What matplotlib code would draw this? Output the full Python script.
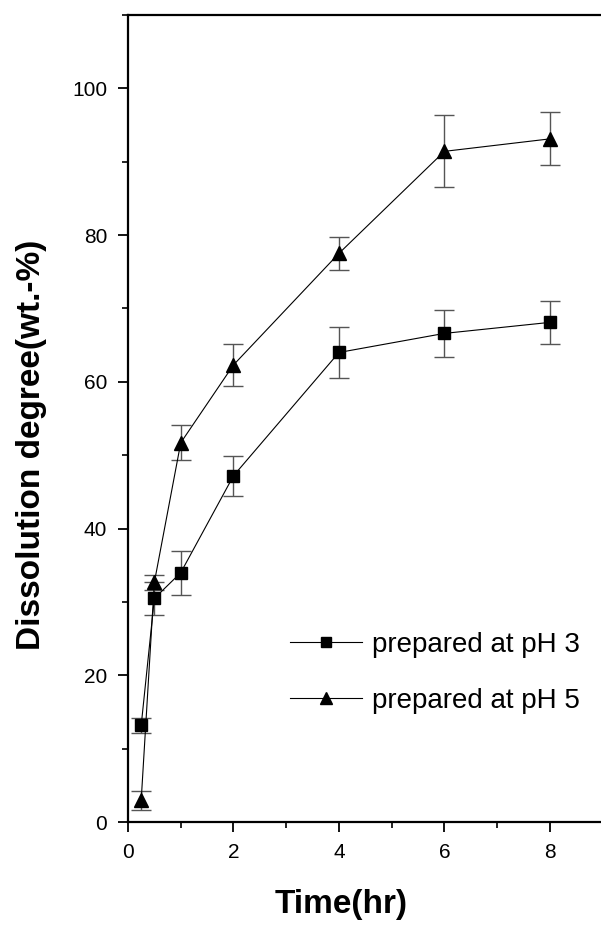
import matplotlib
matplotlib.use("Agg")
import matplotlib.pyplot as plt
from matplotlib.ticker import MultipleLocator
from matplotlib.lines import Line2D

plt.rcParams['font.family'] = ['Liberation Sans', 'DejaVu Sans']

# time points (hr)
time = [0.25, 0.5, 1, 2, 4, 6, 8]

# dissolution degree, wt.-%
ph3 = [13.2, 30.5, 34.0, 47.2, 64.0, 66.6, 68.1]
ph3_err = [1.0, 2.2, 3.0, 2.7, 3.5, 3.2, 2.9]
ph5 = [3.0, 32.7, 51.7, 62.3, 77.5, 91.4, 93.1]
ph5_err = [1.3, 1.0, 2.4, 2.9, 2.2, 4.9, 3.6]

labels = ['prepared at pH 3', 'prepared at pH 5']

fig = plt.figure(figsize=(6.01, 9.27), dpi=100)
ax = fig.add_axes([0.213, 0.113, 0.787, 0.871])

ax.errorbar(time, ph3, yerr=ph3_err, color='black', lw=0.8, marker='s', ms=8.5,
            ecolor='#555555', elinewidth=1, capsize=7.5, capthick=1)
ax.errorbar(time, ph5, yerr=ph5_err, color='black', lw=0.8, marker='^', ms=9.5,
            ecolor='#555555', elinewidth=1, capsize=7.5, capthick=1)

ax.set_xlim(0, 8.97)
ax.set_ylim(0, 110)
ax.xaxis.set_major_locator(MultipleLocator(2))
ax.xaxis.set_minor_locator(MultipleLocator(1))
ax.yaxis.set_major_locator(MultipleLocator(20))
ax.yaxis.set_minor_locator(MultipleLocator(10))
ax.tick_params(which='major', direction='out', length=7, width=1.3, labelsize=15, pad=8)
ax.tick_params(which='minor', direction='out', length=4, width=1.2)
ax.spines['right'].set_visible(False)
for s in ['left', 'bottom', 'top']:
    ax.spines[s].set_linewidth(1.6)

ax.set_xlabel('Time(hr)', fontsize=24, fontweight='bold')
ax.set_ylabel('Dissolution degree(wt.-%)', fontsize=24, fontweight='bold')
ax.xaxis.set_label_coords(0.45, -0.083)
ax.yaxis.set_label_coords(-0.171, 0.467)

# legend handles: line + marker, no error bars
handles = [Line2D([], [], color='black', lw=0.8, marker='s', ms=7.5),
           Line2D([], [], color='black', lw=0.8, marker='^', ms=8.5)]
ax.legend(handles, labels, loc='upper left', bbox_to_anchor=(0.342, 0.236),
          frameon=False, fontsize=20, handlelength=2.6, handletextpad=0.36,
          labelspacing=1.08, borderpad=0, borderaxespad=0)

fig.savefig('out.png', dpi=100)
